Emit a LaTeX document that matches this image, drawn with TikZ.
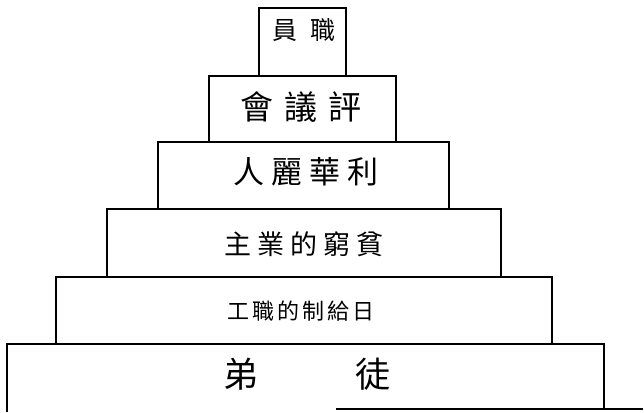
\documentclass[tikz,border=0pt]{standalone}
\usepackage{fontspec}
\newfontfamily\cjk{Noto Sans CJK TC}
\tikzset{
  box/.style={draw=black, line width=1.2pt},
  lbl/.style={inner sep=0pt, anchor=center, font=\cjk},
}
\newcommand{\fsz}[1]{\fontsize{#1}{#1}\selectfont}
\begin{document}
\begin{tikzpicture}[x=1pt,y=-1pt]
\useasboundingbox (0,0) rectangle (644,412);
% boxes
\draw[box] (259,76) -- (259,8) -- (346,8) -- (346,76);
\draw[box] (209,76) rectangle (396,142);
\draw[box] (158,142) rectangle (449,209);
\draw[box] (107,209) rectangle (501,277);
\draw[box] (56,277) rectangle (552,344);
\draw[box] (7,412) -- (7,344) -- (604,344) -- (604,409);
\coordinate (b1) at (336,409);
\coordinate (b2) at (643,409);
\draw[box] (b1) -- (b2);
% labels
\node[lbl] (t1) at (304,30) {\fsz{25}員\hspace{13pt}職};
\node[lbl] (t2) at (301,107) {\fsz{33}會\hspace{11pt}議\hspace{11pt}評};
\node[lbl] (t3) at (306,172) {\fsz{31}人\hspace{7pt}麗\hspace{7pt}華\hspace{7pt}利};
\node[lbl] (t4) at (304,244) {\fsz{27}主\hspace{6pt}業\hspace{6pt}的\hspace{6pt}窮\hspace{6pt}貧};
\node[lbl] (t5) at (301,311) {\fsz{22}工\hspace{3pt}職\hspace{3pt}的\hspace{3pt}制\hspace{3pt}給\hspace{3pt}日};
\node[lbl] (t6) at (307,374) {\fsz{35}弟\hspace{97pt}徒};
\end{tikzpicture}
\end{document}
